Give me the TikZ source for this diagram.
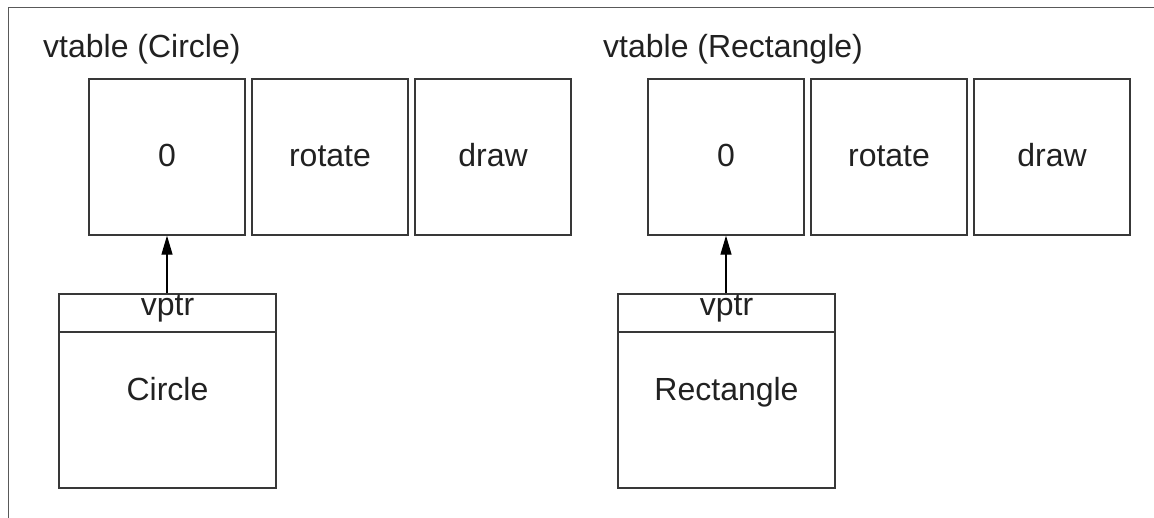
\documentclass[tikz,border=0pt]{standalone}
\usepackage{fontspec}
\setmainfont{Liberation Sans}
\usetikzlibrary{arrows.meta}
\begin{document}
\begin{tikzpicture}[x=1pt,y=-1pt,
  every node/.style={font=\fontsize{32}{37}\selectfont, text=black!87},
  boxline/.style={draw=black!78, line width=1.3pt, inner sep=0pt},
  cell/.style={boxline, minimum width=156pt, minimum height=156pt, text height=20pt, text depth=0pt},
  hdr/.style={boxline, minimum width=217pt, minimum height=38pt, text height=6pt, text depth=0pt},
  objbody/.style={boxline, minimum width=217pt, minimum height=156pt, text height=0pt, text depth=18pt},
  title/.style={anchor=base west, inner sep=0pt},
  frame/.style={draw=black!65, line width=1pt},
  ptr/.style={draw=black, line width=1.2pt, -{Triangle[length=19pt,width=11pt]}}
]
\useasboundingbox (0,0) rectangle (1154,518);
\coordinate (fa) at (8,518);
\coordinate (fb) at (8,8);
\coordinate (fc) at (1160,8);
\draw[frame] (fa) -- (fb) -- (fc);

% left group
\node[title] (t1) at (43,58) {vtable (Circle)};
\node[cell] (c0) at (167,157) {0};
\node[cell] (c1) at (330,157) {rotate};
\node[cell] (c2) at (493,157) {draw};
\node[hdr] (ch) at (167.5,313) {vptr};
\node[objbody] (cb) at (167.5,410) {Circle};

% right group
\node[title] (t2) at (603,58) {vtable (Rectangle)};
\node[cell] (r0) at (726,157) {0};
\node[cell] (r1) at (889,157) {rotate};
\node[cell] (r2) at (1052,157) {draw};
\node[hdr] (rh) at (726.5,313) {vptr};
\node[objbody] (rb) at (726.5,410) {Rectangle};

\draw[ptr] (ch.north -| c0.south) -- (c0.south);
\draw[ptr] (rh.north -| r0.south) -- (r0.south);
\end{tikzpicture}
\end{document}
